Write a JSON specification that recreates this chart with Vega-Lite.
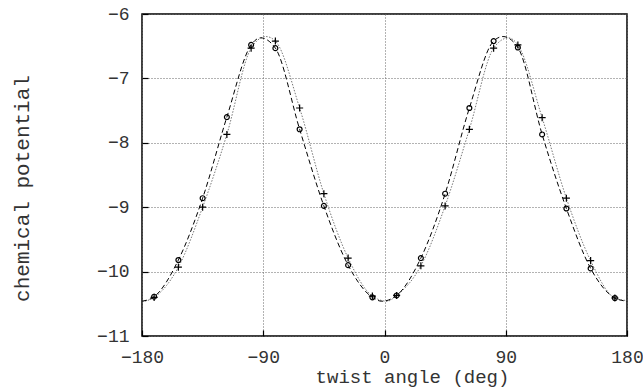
{
  "$schema": "https://vega.github.io/schema/vega-lite/v6.json",
  "width": 485,
  "height": 322,
  "autosize": {"type": "none"},
  "padding": {"left": 142, "top": 14, "right": 16, "bottom": 52},
  "background": "white",
  "config": {
    "view": {"stroke": "black", "strokeWidth": 1.5},
    "axis": {
      "labelFont": "Liberation Mono",
      "labelFontSize": 18,
      "labelColor": "#333",
      "titleFont": "Liberation Mono",
      "titleFontSize": 19,
      "titleFontWeight": "normal",
      "titleColor": "#333",
      "grid": true,
      "gridColor": "#666",
      "gridDash": [1, 2],
      "gridWidth": 1,
      "domain": false,
      "tickColor": "black",
      "tickWidth": 1.2,
      "tickSize": -6
    }
  },
  "datasets": {
    "curves": [
      {"angle": -180, "value": -10.46, "series": "o"},
      {"angle": -171, "value": -10.39, "series": "o"},
      {"angle": -153, "value": -9.82, "series": "o"},
      {"angle": -135, "value": -8.86, "series": "o"},
      {"angle": -117, "value": -7.6, "series": "o"},
      {"angle": -99, "value": -6.48, "series": "o"},
      {"angle": -92, "value": -6.37, "series": "o"},
      {"angle": -81, "value": -6.53, "series": "o"},
      {"angle": -63, "value": -7.79, "series": "o"},
      {"angle": -45, "value": -8.98, "series": "o"},
      {"angle": -27, "value": -9.9, "series": "o"},
      {"angle": -9, "value": -10.4, "series": "o"},
      {"angle": -2, "value": -10.46, "series": "o"},
      {"angle": 9, "value": -10.37, "series": "o"},
      {"angle": 27, "value": -9.79, "series": "o"},
      {"angle": 45, "value": -8.79, "series": "o"},
      {"angle": 63, "value": -7.46, "series": "o"},
      {"angle": 81, "value": -6.42, "series": "o"},
      {"angle": 88, "value": -6.35, "series": "o"},
      {"angle": 99, "value": -6.52, "series": "o"},
      {"angle": 117, "value": -7.87, "series": "o"},
      {"angle": 135, "value": -9.02, "series": "o"},
      {"angle": 153, "value": -9.95, "series": "o"},
      {"angle": 171, "value": -10.41, "series": "o"},
      {"angle": 180, "value": -10.46, "series": "o"},
      {"angle": -180, "value": -10.47, "series": "+"},
      {"angle": -171, "value": -10.4, "series": "+"},
      {"angle": -153, "value": -9.93, "series": "+"},
      {"angle": -135, "value": -9.0, "series": "+"},
      {"angle": -117, "value": -7.87, "series": "+"},
      {"angle": -99, "value": -6.53, "series": "+"},
      {"angle": -88, "value": -6.35, "series": "+"},
      {"angle": -81, "value": -6.42, "series": "+"},
      {"angle": -63, "value": -7.46, "series": "+"},
      {"angle": -45, "value": -8.79, "series": "+"},
      {"angle": -27, "value": -9.79, "series": "+"},
      {"angle": -9, "value": -10.38, "series": "+"},
      {"angle": 2, "value": -10.46, "series": "+"},
      {"angle": 9, "value": -10.37, "series": "+"},
      {"angle": 27, "value": -9.91, "series": "+"},
      {"angle": 45, "value": -8.98, "series": "+"},
      {"angle": 63, "value": -7.79, "series": "+"},
      {"angle": 81, "value": -6.53, "series": "+"},
      {"angle": 92, "value": -6.37, "series": "+"},
      {"angle": 99, "value": -6.48, "series": "+"},
      {"angle": 117, "value": -7.61, "series": "+"},
      {"angle": 135, "value": -8.86, "series": "+"},
      {"angle": 153, "value": -9.83, "series": "+"},
      {"angle": 171, "value": -10.41, "series": "+"},
      {"angle": 180, "value": -10.45, "series": "+"}
    ],
    "markers": [
      {"angle": -171, "value": -10.39, "series": "o"},
      {"angle": -153, "value": -9.82, "series": "o"},
      {"angle": -135, "value": -8.86, "series": "o"},
      {"angle": -117, "value": -7.6, "series": "o"},
      {"angle": -99, "value": -6.48, "series": "o"},
      {"angle": -81, "value": -6.53, "series": "o"},
      {"angle": -63, "value": -7.79, "series": "o"},
      {"angle": -45, "value": -8.98, "series": "o"},
      {"angle": -27, "value": -9.9, "series": "o"},
      {"angle": -9, "value": -10.4, "series": "o"},
      {"angle": 9, "value": -10.37, "series": "o"},
      {"angle": 27, "value": -9.79, "series": "o"},
      {"angle": 45, "value": -8.79, "series": "o"},
      {"angle": 63, "value": -7.46, "series": "o"},
      {"angle": 81, "value": -6.42, "series": "o"},
      {"angle": 99, "value": -6.52, "series": "o"},
      {"angle": 117, "value": -7.87, "series": "o"},
      {"angle": 135, "value": -9.02, "series": "o"},
      {"angle": 153, "value": -9.95, "series": "o"},
      {"angle": 171, "value": -10.41, "series": "o"},
      {"angle": -171, "value": -10.4, "series": "+"},
      {"angle": -153, "value": -9.93, "series": "+"},
      {"angle": -135, "value": -9.0, "series": "+"},
      {"angle": -117, "value": -7.87, "series": "+"},
      {"angle": -99, "value": -6.53, "series": "+"},
      {"angle": -81, "value": -6.42, "series": "+"},
      {"angle": -63, "value": -7.46, "series": "+"},
      {"angle": -45, "value": -8.79, "series": "+"},
      {"angle": -27, "value": -9.79, "series": "+"},
      {"angle": -9, "value": -10.38, "series": "+"},
      {"angle": 9, "value": -10.37, "series": "+"},
      {"angle": 27, "value": -9.91, "series": "+"},
      {"angle": 45, "value": -8.98, "series": "+"},
      {"angle": 63, "value": -7.79, "series": "+"},
      {"angle": 81, "value": -6.53, "series": "+"},
      {"angle": 99, "value": -6.48, "series": "+"},
      {"angle": 117, "value": -7.61, "series": "+"},
      {"angle": 135, "value": -8.86, "series": "+"},
      {"angle": 153, "value": -9.83, "series": "+"},
      {"angle": 171, "value": -10.41, "series": "+"}
    ]
  },
  "encoding": {
    "x": {
      "field": "angle",
      "type": "quantitative",
      "scale": {"domain": [-180, 180], "nice": false, "zero": false},
      "axis": {
        "values": [-180, -90, 0, 90, 180],
        "title": "twist angle (deg)",
        "labelPadding": 18,
        "labelFlush": false,
        "labelOverlap": false,
        "titleX": 270,
        "titleY": 40,
        "titleBaseline": "middle",
        "titleAlign": "center"
      }
    },
    "y": {
      "field": "value",
      "type": "quantitative",
      "scale": {"domain": [-11, -6], "nice": false, "zero": false},
      "axis": {
        "values": [-11, -10, -9, -8, -7, -6],
        "title": "chemical potential",
        "titleFontSize": 21,
        "labelPadding": 19,
        "labelFlush": false,
        "labelOverlap": false,
        "titleX": -120,
        "titleY": 174,
        "titleAngle": -90,
        "titleBaseline": "middle",
        "titleAlign": "center"
      }
    }
  },
  "layer": [
    {
      "data": {"name": "curves"},
      "transform": [{"filter": "datum.series === '+'"}],
      "mark": {"type": "line", "interpolate": "monotone", "color": "#777", "strokeWidth": 1, "strokeDash": [1.5, 1.5]}
    },
    {
      "data": {"name": "curves"},
      "transform": [{"filter": "datum.series === 'o'"}],
      "mark": {"type": "line", "interpolate": "monotone", "color": "black", "strokeWidth": 1, "strokeDash": [5, 3]}
    },
    {
      "data": {"name": "markers"},
      "transform": [{"filter": "datum.series === 'o'"}],
      "mark": {"type": "point", "shape": "circle", "size": 24, "filled": false, "stroke": "black", "strokeWidth": 1.2, "opacity": 1}
    },
    {
      "data": {"name": "markers"},
      "transform": [{"filter": "datum.series === '+'"}],
      "mark": {"type": "point", "shape": "M-1,0H1M0,-1V1", "size": 50, "filled": false, "stroke": "black", "strokeWidth": 1.2, "opacity": 1}
    }
  ]
}
